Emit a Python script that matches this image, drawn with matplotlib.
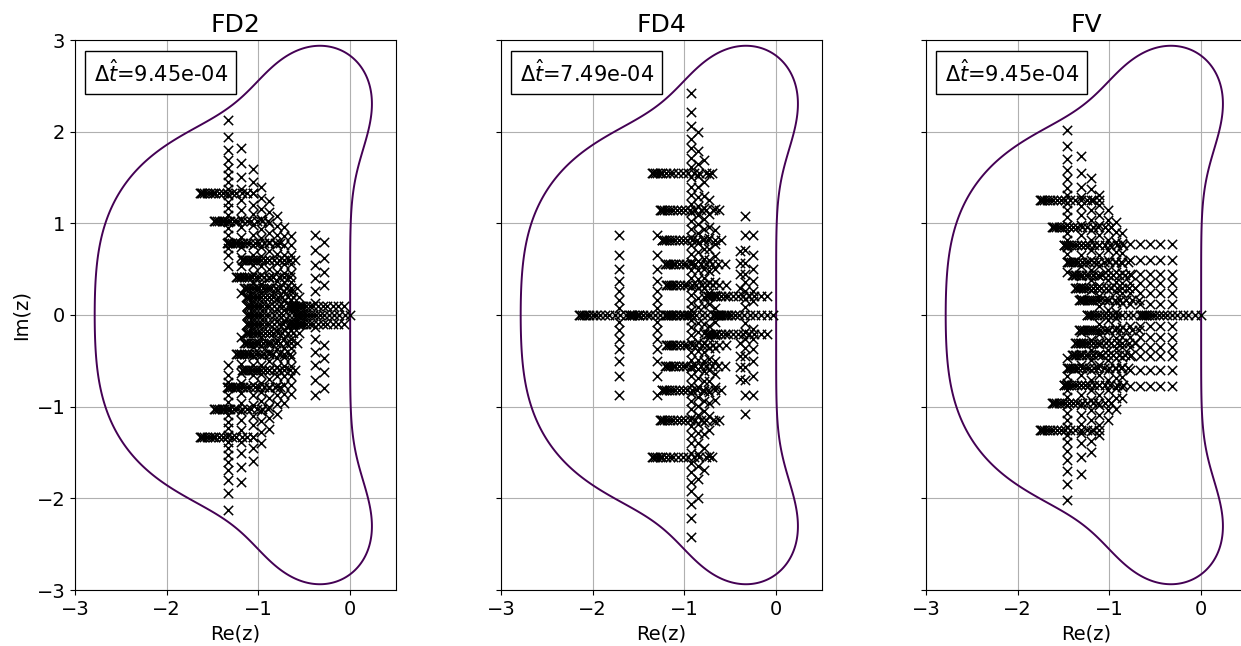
import numpy as np
import matplotlib
matplotlib.use("Agg")
import matplotlib.pyplot as plt

# RK4 amplification polynomial, coefficients of z^0 .. z^4
rk4_coeffs = [1.0, 1.0, 1.0 / 2, 1.0 / 6, 1.0 / 24]

titles = ["FD2", "FD4", "FV"]
dt_labels = [r"$\Delta\hat{t}$=9.45e-04", r"$\Delta\hat{t}$=7.49e-04", r"$\Delta\hat{t}$=9.45e-04"]

# eigenvalues, upper half plane only (mirrored below)
# dense horizontal rows: imag level, right end, and spacing pattern of the row
fd2_row_offsets = [0.0, -0.06, -0.12, -0.18, -0.23, -0.28, -0.33, -0.37, -0.41, -0.44, -0.47, -0.50, -0.53, -0.55, -0.57, -0.58]
fd2_rows_im = [1.33, 1.03, 0.79, 0.60, 0.42, 0.30, 0.20, 0.10, 0.0, 0.10, 0.0]
fd2_rows_re = [-1.06, -0.90, -0.76, -0.60, -0.66, -0.58, -0.56, -0.55, -0.55, -0.07, 0.0]
fd2_cols_re = [-1.333, -1.19, -1.06, -0.97, -0.88, -0.80, -0.72, -0.64, -0.38, -0.29]
fd2_cols_im = [
    [2.13, 1.945, 1.80, 1.69, 1.60, 1.53, 1.455, 1.38, 1.31, 1.235, 1.165, 1.09, 1.02, 0.945, 0.875, 0.80, 0.73, 0.655, 0.54],
    [1.82, 1.655, 1.51, 1.38, 1.255, 1.145, 1.05, 0.96, 0.855, 0.745, 0.635, 0.53, 0.42, 0.235],
    [1.59, 1.45, 1.33, 1.20, 1.10, 0.98, 0.87, 0.76, 0.65, 0.55, 0.45, 0.35],
    [1.40, 1.28, 1.16, 1.05, 0.94, 0.84, 0.74, 0.64, 0.54, 0.44, 0.34, 0.24],
    [1.24, 1.12, 1.00, 0.90, 0.80, 0.70, 0.60, 0.50, 0.40, 0.30, 0.20, 0.10],
    [1.08, 0.97, 0.87, 0.77, 0.67, 0.57, 0.47, 0.37, 0.27, 0.17, 0.07],
    [0.96, 0.86, 0.76, 0.66, 0.56, 0.46, 0.36, 0.26, 0.16, 0.06],
    [0.86, 0.76, 0.66, 0.56, 0.46, 0.36, 0.26, 0.16, 0.06],
    [0.87, 0.71, 0.55, 0.40, 0.26, 0.13],
    [0.80, 0.62, 0.47, 0.33],
]
fd2_block_re = []
fd2_block_im = []

fd4_row_offsets = [0.0, -0.07, -0.14, -0.20, -0.26, -0.32, -0.37, -0.42, -0.46, -0.50, -0.54, -0.57, -0.60, -0.62, -0.64, -0.65]
fd4_rows_im = [1.55, 1.145, 0.82, 0.56, 0.33, 0.21, 0.0, 0.0, 0.0, 0.0]
fd4_rows_re = [-0.70, -0.62, -0.60, -0.56, -0.55, -0.10, -0.03, -0.55, -0.95, -1.50]
fd4_cols_re = [-0.93, -0.85, -0.79, -0.73, -0.67, -1.71, -1.30, -0.34, -0.25, -0.39]
fd4_cols_im = [
    [2.425, 2.21, 2.06, 1.92, 1.82, 1.71, 1.61, 1.51, 1.40, 1.31, 1.21, 1.12, 1.03, 0.94, 0.85, 0.76, 0.67, 0.58, 0.49, 0.40, 0.31, 0.22, 0.13, 0.05],
    [2.0, 1.79, 1.65, 1.52, 1.40, 1.29, 1.19, 1.09, 0.99, 0.89, 0.79, 0.69, 0.59, 0.49, 0.39, 0.29, 0.19, 0.09],
    [1.69, 1.45, 1.30, 1.17, 1.05, 0.94, 0.83, 0.72, 0.61, 0.50, 0.40, 0.30, 0.20, 0.10],
    [1.54, 1.25, 1.10, 0.96, 0.84, 0.72, 0.60, 0.48, 0.36, 0.24, 0.12],
    [1.16, 0.93, 0.78, 0.64, 0.50, 0.36, 0.22, 0.08],
    [0.87, 0.66, 0.50, 0.37, 0.26, 0.16, 0.08],
    [0.87, 0.66, 0.50, 0.37, 0.26, 0.16, 0.08],
    [1.08, 0.87, 0.71, 0.57, 0.45, 0.36, 0.26, 0.18, 0.09],
    [0.87, 0.66, 0.50, 0.37, 0.26, 0.15],
    [0.70, 0.57, 0.45, 0.30],
]
fd4_block_re = []
fd4_block_im = []

fv_row_offsets = [0.0, -0.07, -0.14, -0.20, -0.26, -0.32, -0.37, -0.42, -0.46, -0.50, -0.54, -0.57, -0.60, -0.62, -0.64, -0.65]
fv_rows_im = [1.25, 0.96, 0.76, 0.58, 0.44, 0.30, 0.16, 0.0, 0.0]
fv_rows_re = [-1.11, -0.98, -0.85, -0.80, -0.76, -0.72, -0.68, 0.0, -0.60]
fv_cols_re = [-1.46, -1.31, -1.20, -1.11, -1.02, -0.93, -0.86]
fv_cols_im = [
    [2.02, 1.84, 1.70, 1.58, 1.48, 1.39, 1.31, 1.225, 1.145, 1.07, 0.98, 0.89, 0.82, 0.745, 0.67, 0.58, 0.47],
    [1.73, 1.55, 1.40, 1.29, 1.19, 1.09, 0.98, 0.87, 0.76, 0.65, 0.54, 0.43, 0.31, 0.18],
    [1.49, 1.37, 1.26, 1.15, 1.04, 0.93, 0.82, 0.71, 0.60, 0.49, 0.38, 0.27, 0.16],
    [1.31, 1.20, 1.09, 0.98, 0.87, 0.76, 0.65, 0.54, 0.43, 0.32, 0.21, 0.10],
    [1.15, 1.04, 0.93, 0.82, 0.71, 0.60, 0.49, 0.38, 0.27, 0.16, 0.05],
    [1.02, 0.91, 0.80, 0.69, 0.58, 0.47, 0.36, 0.25, 0.14, 0.03],
    [0.90, 0.79, 0.68, 0.57, 0.46, 0.35, 0.24, 0.13],
]
fv_block_re = [-0.78, -0.67, -0.56, -0.45, -0.32]
fv_block_im = [0.77, 0.60, 0.45, 0.35, 0.24, 0.12]


def collect(rows_im, rows_re, offsets, cols_re, cols_im, block_re, block_im):
    re, im = [], []
    for y, x0 in zip(rows_im, rows_re):
        for d in offsets:
            re.append(x0 + d)
            im.append(y)
    for x, ys in zip(cols_re, cols_im):
        for y in ys:
            re.append(x)
            im.append(y)
    for x in block_re:
        for y in block_im:
            re.append(x)
            im.append(y)
    re = np.array(re)
    im = np.array(im)
    # conjugate pairs
    upper = im > 0
    return np.concatenate([re, re[upper]]), np.concatenate([im, -im[upper]])


panels = [
    collect(fd2_rows_im, fd2_rows_re, fd2_row_offsets, fd2_cols_re, fd2_cols_im, fd2_block_re, fd2_block_im),
    collect(fd4_rows_im, fd4_rows_re, fd4_row_offsets, fd4_cols_re, fd4_cols_im, fd4_block_re, fd4_block_im),
    collect(fv_rows_im, fv_rows_re, fv_row_offsets, fv_cols_re, fv_cols_im, fv_block_re, fv_block_im),
]

# stability region boundary |R(z)| = 1
xx, yy = np.meshgrid(np.linspace(-3.2, 0.8, 500), np.linspace(-3.3, 3.3, 600))
zz = xx + 1j * yy
amp = np.abs(np.polyval(rk4_coeffs[::-1], zz))

W, H = 1241, 646
fig = plt.figure(figsize=(W / 100, H / 100), dpi=100)
lefts = [75, 501, 926]
for k in range(3):
    ax = fig.add_axes([lefts[k] / W, (H - 590) / H, 321 / W, 550 / H])
    ax.contour(xx, yy, amp, levels=[1.0], cmap="viridis", linewidths=1.4)
    re, im = panels[k]
    ax.scatter(re, im, marker="x", c="black", s=45, linewidths=1.1, zorder=3)
    ax.set_xlim(-3, 0.5)
    ax.set_ylim(-3, 3)
    ax.set_xticks([-3, -2, -1, 0])
    ax.set_yticks([-3, -2, -1, 0, 1, 2, 3])
    ax.grid(True, color="#b0b0b0", linewidth=0.8)
    ax.set_axisbelow(True)
    ax.tick_params(labelsize=14)
    ax.set_title(titles[k], fontsize=18)
    ax.set_xlabel("Re(z)", fontsize=14)
    if k == 0:
        ax.set_ylabel("Im(z)", fontsize=14)
    else:
        ax.set_yticklabels([])
    ax.text(0.058, 0.965, dt_labels[k], transform=ax.transAxes, fontsize=15,
            ha="left", va="top", zorder=5,
            bbox=dict(boxstyle="square,pad=0.4", fc="white", ec="black", lw=1.0))

fig.savefig("out.png", dpi=100)
